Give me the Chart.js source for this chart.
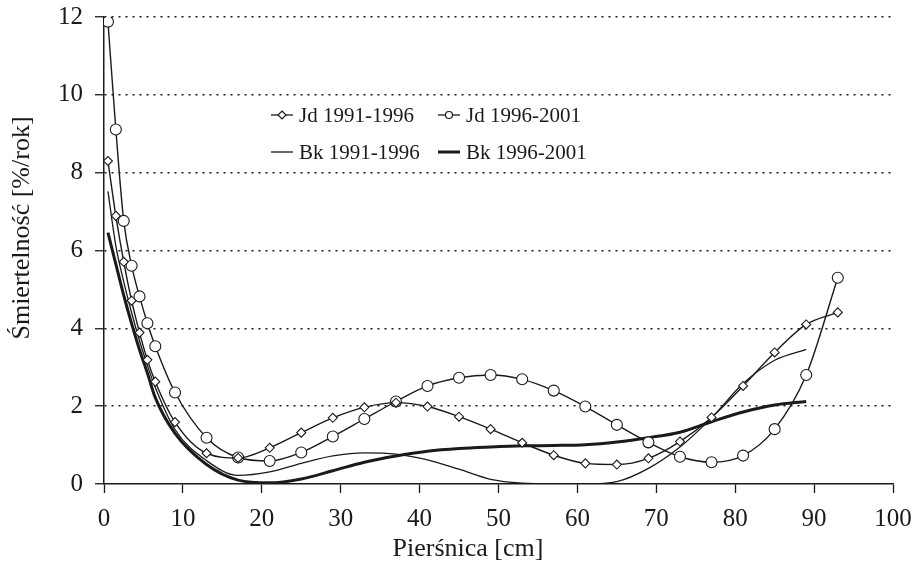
<!DOCTYPE html>
<html>
<head>
<meta charset="utf-8">
<script src="https://cdn.jsdelivr.net/npm/chart.js@4.4.1/dist/chart.umd.min.js"></script>
<style>
	body { margin: 0; background: #fff; }
	#wrap { width: 918px; height: 568px; }
</style>
</head>
<body>
<div id="wrap"><canvas id="myChart"></canvas></div>
<script>
// pomiary (piersnica) i smiertelnosc [%/rok]
var jdX = [0.5, 1.5, 2.5, 3.5, 4.5, 5.5, 6.5, 9, 13, 17, 21, 25, 29, 33, 37, 41, 45, 49, 53, 57, 61, 65, 69, 73, 77, 81, 85, 89, 93];
var jd9196 = [8.3, 6.89, 5.71, 4.71, 3.89, 3.19, 2.63, 1.59, 0.79, 0.67, 0.93, 1.32, 1.70, 1.97, 2.09, 1.99, 1.73, 1.41, 1.06, 0.74, 0.53, 0.50, 0.66, 1.09, 1.71, 2.52, 3.38, 4.10, 4.41];
var jd9601 = [11.88, 9.11, 6.76, 5.61, 4.82, 4.13, 3.54, 2.35, 1.19, 0.68, 0.59, 0.81, 1.22, 1.67, 2.12, 2.52, 2.73, 2.80, 2.69, 2.40, 1.99, 1.52, 1.07, 0.70, 0.56, 0.73, 1.41, 2.80, 5.30];

var bkX = [0.5, 1.5, 2.5, 3.5, 4.5, 5.5, 6.5, 9, 13, 17, 21, 25, 29, 33, 37, 41, 45, 49, 53, 57, 61, 65, 69, 73, 77, 81, 85, 89];
var bk9196 = [7.52, 6.12, 5.2, 4.4, 3.68, 3.05, 2.48, 1.4, 0.6, 0.22, 0.31, 0.53, 0.72, 0.8, 0.77, 0.62, 0.38, 0.12, 0.02, 0.0, 0.0, 0.06, 0.4, 0.95, 1.7, 2.58, 3.18, 3.46];
var bk9601 = [6.46, 5.65, 4.85, 4.12, 3.45, 2.85, 2.22, 1.3, 0.5, 0.1, 0.03, 0.13, 0.34, 0.56, 0.72, 0.84, 0.91, 0.95, 0.98, 0.99, 1.01, 1.08, 1.19, 1.33, 1.6, 1.85, 2.03, 2.12];

var xTicks = [0, 10, 20, 30, 40, 50, 60, 70, 80, 90, 100];
var yTicks = [0, 2, 4, 6, 8, 10, 12];

var tytulX = "Pierśnica [cm]";
var tytulY = "Śmiertelność [%/rok]";

function punkty(xs, ys) {
	var out = [];
	for (var i = 0; i < ys.length; i++) {
		out.push({ x : xs[i], y : ys[i] });
	}
	return out;
}

var czarny = '#1a1a1a';
var FONT = "'Liberation Serif', 'Times New Roman', serif";

// legenda i tytuly osi rysowane recznie
var legendaPlugin = {
	id : 'legenda',
	afterDraw : function(chart) {
		var ctx = chart.ctx;
		ctx.save();
		ctx.fillStyle = czarny;
		ctx.strokeStyle = czarny;
		ctx.font = "21px " + FONT;
		ctx.textBaseline = 'middle';
		ctx.textAlign = 'left';

		var wpisy = [
			{ x : 271, y : 115, tekst : 'Jd 1991-1996', lw : 1.3, znak : 'romb' },
			{ x : 438, y : 115, tekst : 'Jd 1996-2001', lw : 1.3, znak : 'kolo' },
			{ x : 271, y : 152, tekst : 'Bk 1991-1996', lw : 1.3, znak : null },
			{ x : 438, y : 152, tekst : 'Bk 1996-2001', lw : 3, znak : null }
		];
		wpisy.forEach(function(w) {
			ctx.lineWidth = w.lw;
			ctx.beginPath();
			ctx.moveTo(w.x, w.y);
			ctx.lineTo(w.x + 22, w.y);
			ctx.stroke();
			var cx = w.x + 11;
			ctx.lineWidth = 1.2;
			if (w.znak === 'romb') {
				ctx.beginPath();
				ctx.moveTo(cx, w.y - 4);
				ctx.lineTo(cx + 4, w.y);
				ctx.lineTo(cx, w.y + 4);
				ctx.lineTo(cx - 4, w.y);
				ctx.closePath();
				ctx.fillStyle = '#fff';
				ctx.fill();
				ctx.stroke();
			} else if (w.znak === 'kolo') {
				ctx.beginPath();
				ctx.arc(cx, w.y, 3.5, 0, Math.PI * 2);
				ctx.fillStyle = '#fff';
				ctx.fill();
				ctx.stroke();
			}
			ctx.fillStyle = czarny;
			ctx.fillText(w.tekst, w.x + 28, w.y + 1);
		});

		// tytuly osi
		ctx.font = "26px " + FONT;
		ctx.textAlign = 'center';
		ctx.fillText(tytulX, 468, 549);
		ctx.translate(22, 228);
		ctx.rotate(-Math.PI / 2);
		ctx.fillText(tytulY, 0, 0);
		ctx.restore();
	}
};

var ctx = document.getElementById('myChart').getContext('2d');
var chart = new Chart(ctx, {
	type : 'line',
	data : {
		datasets : [ {
			label : 'Jd 1991-1996',
			data : punkty(jdX, jd9196),
			borderColor : czarny,
			borderWidth : 1.4,
			pointStyle : 'rectRot',
			pointRadius : 4.5,
			pointBorderWidth : 1.1,
			pointBorderColor : czarny,
			pointBackgroundColor : '#fff',
			cubicInterpolationMode : 'monotone',
			fill : false
		}, {
			label : 'Jd 1996-2001',
			data : punkty(jdX, jd9601),
			borderColor : czarny,
			borderWidth : 1.4,
			pointStyle : 'circle',
			pointRadius : 5.5,
			pointBorderWidth : 1.1,
			pointBorderColor : czarny,
			pointBackgroundColor : '#fff',
			cubicInterpolationMode : 'monotone',
			fill : false
		}, {
			label : 'Bk 1991-1996',
			data : punkty(bkX, bk9196),
			borderColor : czarny,
			borderWidth : 1.3,
			pointRadius : 0,
			cubicInterpolationMode : 'monotone',
			fill : false
		}, {
			label : 'Bk 1996-2001',
			data : punkty(bkX, bk9601),
			borderColor : czarny,
			borderWidth : 3,
			pointRadius : 0,
			cubicInterpolationMode : 'monotone',
			fill : false
		} ]
	},
	options : {
		responsive : true,
		maintainAspectRatio : false,
		animation : false,
		layout : {
			padding : { top : 17, right : 25, left : 0, bottom : 0 }
		},
		plugins : {
			legend : { display : false },
			tooltip : { enabled : false }
		},
		scales : {
			x : {
				type : 'linear',
				min : 0,
				max : 100,
				afterBuildTicks : function(s) {
					s.ticks = xTicks.map(function(v) { return { value : v }; });
				},
				afterFit : function(s) {
					s.height = 84;
					s.paddingLeft = 0;
					s.paddingRight = 0;
				},
				grid : {
					drawOnChartArea : false,
					drawTicks : true,
					tickLength : 9,
					tickColor : czarny,
					tickWidth : 1.3
				},
				border : { display : true, color : czarny, width : 1.5 },
				ticks : {
					color : czarny,
					padding : 11,
					maxRotation : 0,
					autoSkip : false,
					font : { family : FONT, size : 25 }
				}
			},
			y : {
				type : 'linear',
				min : 0,
				max : 12,
				afterBuildTicks : function(s) {
					s.ticks = yTicks.map(function(v) { return { value : v }; });
				},
				afterFit : function(s) {
					s.width = 104;
					s.paddingTop = 0;
					s.paddingBottom = 0;
				},
				grid : {
					drawOnChartArea : true,
					drawTicks : true,
					tickLength : 9,
					tickColor : czarny,
					tickWidth : 1.3,
					lineWidth : 1.5,
					color : function(c) {
						return c.tick && c.tick.value === 0 ? 'rgba(0,0,0,0)' : czarny;
					}
				},
				border : { display : true, color : czarny, width : 1.5, dash : [2, 5] },
				ticks : {
					color : czarny,
					padding : 12,
					autoSkip : false,
					font : { family : FONT, size : 25 }
				}
			}
		}
	},
	plugins : [ legendaPlugin ]
});
</script>
</body>
</html>
